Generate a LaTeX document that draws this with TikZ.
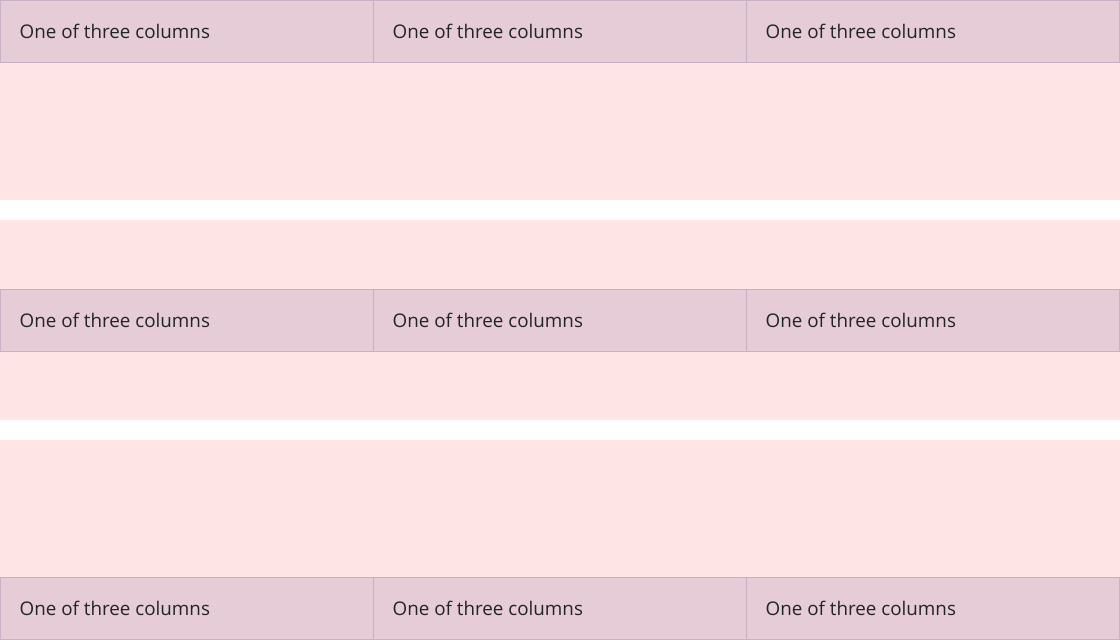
\documentclass[tikz,border=0pt]{standalone}
\usepackage{fontspec}
\setmainfont{Open Sans}
\definecolor{rowbg}{HTML}{FFE5E5}
\definecolor{colbg}{HTML}{E6CCD6}
\definecolor{colborder}{HTML}{C9B0C4}
\definecolor{txt}{HTML}{212529}
\tikzset{
  rowband/.style={fill=rowbg, draw=none},
  cell/.style={fill=colbg, draw=colborder, line width=1pt},
  celltext/.style={anchor=west, inner sep=0pt, text=txt, font=\fontsize{18.8}{22}\selectfont}
}
\begin{document}
\begin{tikzpicture}[x=1pt, y=-1pt]
\useasboundingbox (0,0) rectangle (1120,640);
\fill[white] (0,0) rectangle (1120,640);
% row bands
\fill[rowband] (0,0) rectangle (1120,200);
\fill[rowband] (0,220) rectangle (1120,420);
\fill[rowband] (0,440) rectangle (1120,640);
% cells
\foreach \r/\y in {1/0, 2/289, 3/577} {
  \foreach \c/\x in {1/0, 2/373, 3/746} {
    \draw[cell] (\x+0.5,\y+0.5) rectangle (\x+373.5,\y+62.5);
    \node[celltext] (t\r\c) at (\x+19.5,\y+31.5) {One of three columns};
  }
}
\end{tikzpicture}
\end{document}
